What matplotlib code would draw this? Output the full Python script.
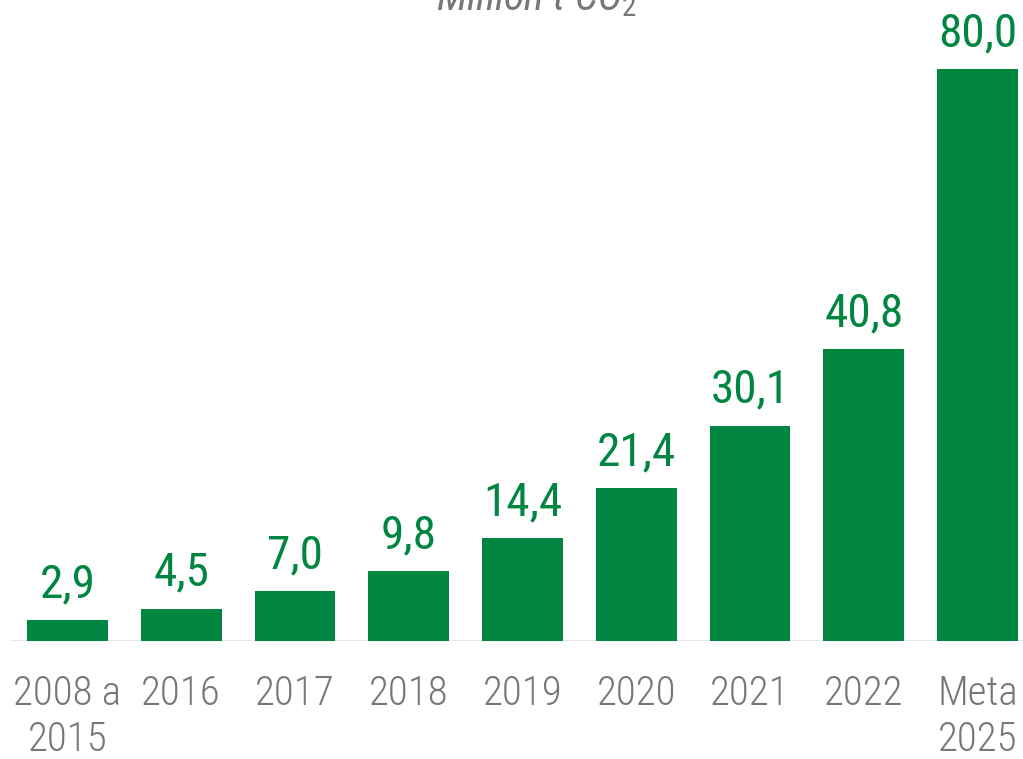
import matplotlib
matplotlib.use("Agg")
from matplotlib import pyplot as plt
import numpy as np

categories = ['2008 a\n2015', '2016', '2017', '2018', '2019', '2020', '2021', '2022', 'Meta\n2025']
values = [2.9, 4.5, 7.0, 9.8, 14.4, 21.4, 30.1, 40.8, 80.0]
value_labels = ['2,9', '4,5', '7,0', '9,8', '14,4', '21,4', '30,1', '40,8', '80,0']
title = 'Million t CO$_2$'

green = '#008641'
grey = '#75787b'
font = ['Roboto Condensed', 'Roboto', 'DejaVu Sans']
plt.rcParams['mathtext.fontset'] = 'custom'
plt.rcParams['mathtext.it'] = 'Roboto Condensed:italic'
plt.rcParams['mathtext.rm'] = 'Roboto Condensed'

fig = plt.figure(figsize=(10.23, 7.59), dpi=100)
ax = fig.add_axes([0, 0.1555, 1, 0.8445])

x = np.arange(len(values))
ax.bar(x, values, width=0.71, color=green, zorder=2)
for xi, v, lab in zip(x, values, value_labels):
    ax.annotate(lab, (xi, v), xytext=(0, 10), textcoords='offset points',
                ha='center', va='bottom', color=green, fontsize=34, family=font)

ax.set_xlim(-0.593, 8.40)
ax.set_ylim(0, 89.65)
ax.axhline(0, xmin=0.011, xmax=1, color='#e3e3e3', lw=2, zorder=1)

ax.set_xticks(x)
ax.set_xticklabels(categories, color=grey, fontsize=29.5, family=font,
                   fontweight='light', linespacing=1.26)
ax.tick_params(axis='x', length=0, pad=24)
ax.set_yticks([])
for s in ax.spines.values():
    s.set_visible(False)

fig.text(537 / 1023, 1 - 10 / 759, title, ha='center', va='baseline', color=grey,
         fontsize=30, style='italic', family=font)

fig.savefig('out.png', dpi=100)
